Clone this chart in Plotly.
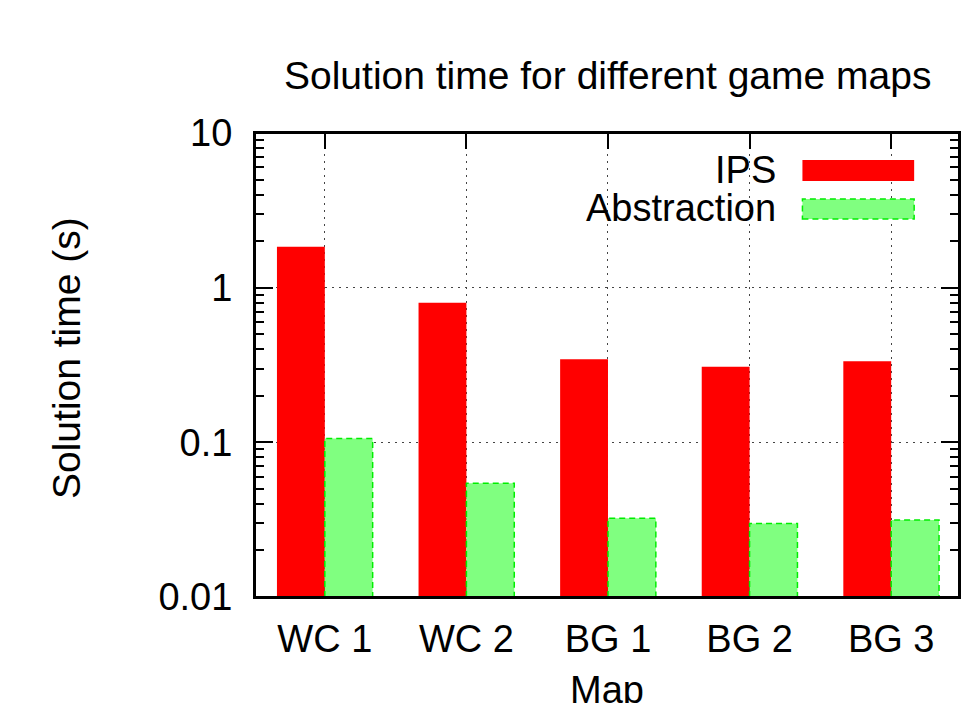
import plotly.graph_objects as go

# Data: solution time (seconds) per game map
maps = ["WC 1", "WC 2", "BG 1", "BG 2", "BG 3"]
ips = [1.84, 0.80, 0.344, 0.308, 0.335]
abstraction = [0.106, 0.0543, 0.0323, 0.0299, 0.0315]
y_ticks = [0.01, 0.1, 1, 10]
y_tick_text = ["0.01", "0.1", "1", "10"]

FONT = "Liberation Sans, Arial, sans-serif"
RED = "#ff0000"
GREEN_FILL = "#80ff80"
GREEN_LINE = "#00ee00"
BAR_W = 0.338
Y_MIN = 0.01

pos = list(range(len(maps)))

fig = go.Figure()
fig.add_trace(go.Bar(
    x=pos, y=ips, name="IPS",
    offset=-BAR_W, width=BAR_W,
    marker=dict(color=RED, line=dict(width=0)),
    showlegend=False,
))
fig.add_trace(go.Bar(
    x=pos, y=abstraction, name="Abstraction",
    offset=0, width=BAR_W,
    marker=dict(color=GREEN_FILL, line=dict(width=0)),
    showlegend=False,
))

# dashed outline around the Abstraction bars
ox, oy = [], []
for p, v in zip(pos, abstraction):
    ox += [p, p, p + BAR_W, p + BAR_W, None]
    oy += [Y_MIN, v, v, Y_MIN, None]
fig.add_trace(go.Scatter(
    x=ox, y=oy, mode="lines",
    line=dict(color=GREEN_LINE, width=1.5, dash="6px,4px"),
    hoverinfo="skip", showlegend=False,
))

minor_vals = [m * 10 ** e for e in (-2, -1, 0) for m in range(2, 10)]

fig.update_layout(
    width=966, height=703,
    margin=dict(l=255, r=5, t=133, b=106),
    paper_bgcolor="white", plot_bgcolor="white",
    font=dict(family=FONT, size=38, color="black"),
    barmode="overlay",
    xaxis=dict(
        range=[-0.493, 4.479],
        tickmode="array", tickvals=pos, ticktext=maps,
        ticks="inside", ticklen=16, tickwidth=2, tickcolor="black",
        mirror="ticks", showline=True, linecolor="black", linewidth=2,
        showgrid=True, gridcolor="#444", gridwidth=1, griddash="2px,5px",
        zeroline=False, layer="below traces",
        tickfont=dict(size=38), ticklabelstandoff=7,
    ),
    yaxis=dict(
        type="log", range=[-2, 1],
        tickmode="array", tickvals=y_ticks, ticktext=y_tick_text,
        ticks="inside", ticklen=18, tickwidth=2, tickcolor="black",
        mirror="ticks", showline=True, linecolor="black", linewidth=2,
        showgrid=True, gridcolor="#444", gridwidth=1, griddash="2px,5px",
        zeroline=False,
        minor=dict(tickvals=minor_vals, ticks="inside", ticklen=9,
                   tickwidth=2, tickcolor="black", showgrid=False),
        tickfont=dict(size=38), ticklabelstandoff=13,
    ),
)

shapes = [
    # key background hides the grid behind it
    dict(type="rect", xref="paper", yref="paper", x0=0.467, x1=0.949,
         y0=0.791, y1=0.998, fillcolor="white", line=dict(width=0),
         layer="between"),
    # key swatches
    dict(type="rect", xref="paper", yref="paper", x0=0.7776, x1=0.9363,
         y0=0.8966, y1=0.9418, fillcolor=RED, line=dict(width=0)),
    dict(type="rect", xref="paper", yref="paper", x0=0.7776, x1=0.9363,
         y0=0.8147, y1=0.8578, fillcolor=GREEN_FILL,
         line=dict(color=GREEN_LINE, width=1.5, dash="6px,4px")),
    # frame
    dict(type="rect", xref="paper", yref="paper", x0=0, x1=1, y0=0, y1=1,
         line=dict(color="black", width=2), fillcolor="rgba(0,0,0,0)"),
]
fig.update_layout(shapes=shapes)

annotations = [
    dict(text="Solution time for different game maps", xref="paper", yref="paper",
         x=0.5, y=1.1250, xanchor="center", yanchor="middle", showarrow=False,
         font=dict(size=39)),
    dict(text="Solution time (s)", xref="paper", yref="paper",
         x=-0.2685, y=0.515, xanchor="center", yanchor="middle", textangle=-90,
         showarrow=False, font=dict(size=39)),
    dict(text="Map", xref="paper", yref="paper",
         x=0.5, y=-0.200, xanchor="center", yanchor="middle", showarrow=False,
         font=dict(size=38)),
    dict(text="IPS", xref="paper", yref="paper", x=0.7436, y=0.920,
         xanchor="right", yanchor="middle", showarrow=False, font=dict(size=38)),
    dict(text="Abstraction", xref="paper", yref="paper", x=0.7436, y=0.838,
         xanchor="right", yanchor="middle", showarrow=False, font=dict(size=38)),
]
fig.update_layout(annotations=annotations)

fig.write_html("out.html")
